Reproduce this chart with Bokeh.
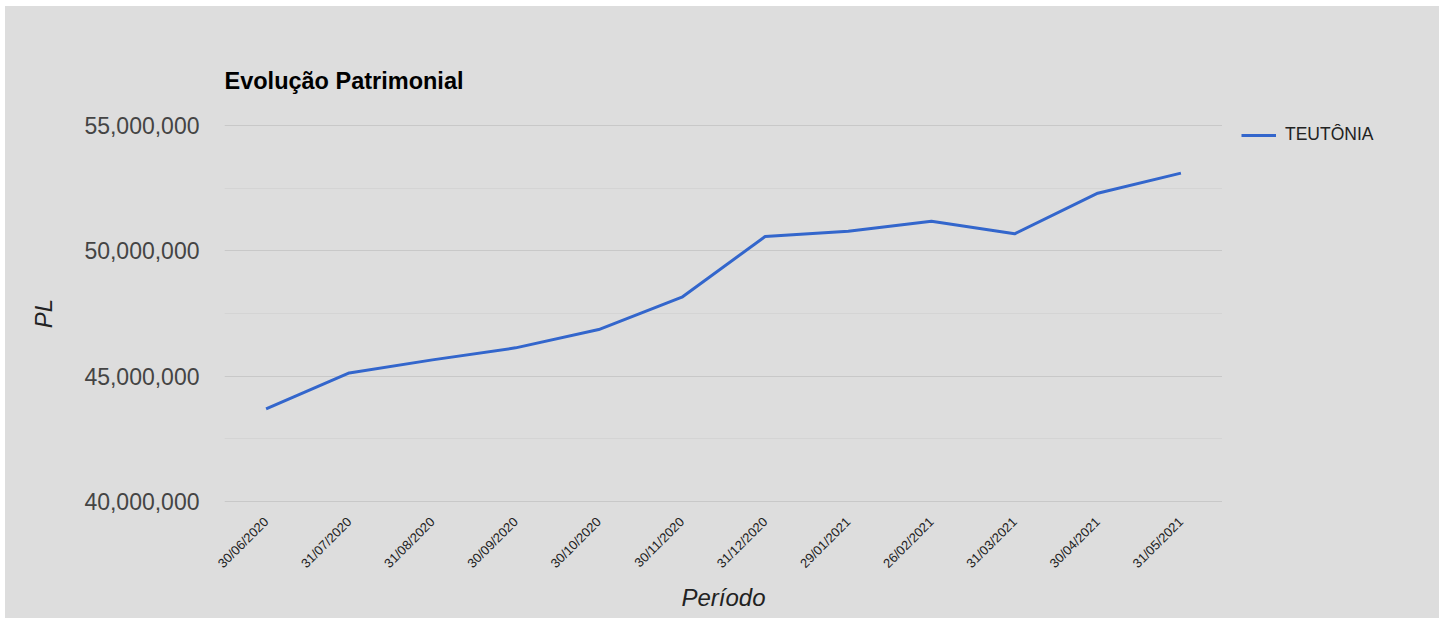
from bokeh.plotting import figure
from bokeh.layouts import row
from bokeh.models import (Range1d, FactorRange, FixedTicker, NumeralTickFormatter,
                          Legend, LegendItem, ColumnDataSource, Title)
from bokeh.embed import file_html
from bokeh.resources import INLINE
import math

# ---- data ----
periodos = ["30/06/2020", "31/07/2020", "31/08/2020", "30/09/2020", "30/10/2020",
            "30/11/2020", "31/12/2020", "29/01/2021", "26/02/2021", "31/03/2021",
            "30/04/2021", "31/05/2021"]
pl_teutonia = [43_700_000, 45_130_000, 45_650_000, 46_130_000, 46_860_000,
               48_150_000, 50_570_000, 50_780_000, 51_180_000, 50_680_000,
               52_300_000, 53_100_000]
serie_nome = "TEUTÔNIA"
y_ticks = [40_000_000, 45_000_000, 50_000_000, 55_000_000]
y_minor = [42_500_000, 47_500_000, 52_500_000]

FONT = "Liberation Sans"
BG = "#dddddd"
LINE = "#3366cc"

H = 612
MAIN_W = 1217
LEG_W = 217

pad = (55_000_000 - 40_000_000) / 376.0   # one pixel of headroom so edge gridlines show
p = figure(width=MAIN_W, height=H, output_backend="svg", toolbar_location=None,
           x_range=FactorRange(factors=periodos, range_padding=0),
           y_range=Range1d(40_000_000 - pad, 55_000_000 + pad),
           min_border_left=219, min_border_right=0,
           min_border_top=118, min_border_bottom=116,
           background_fill_color=BG, border_fill_color=BG, outline_line_color=None)
p.styles = {"background-color": BG}

src = ColumnDataSource(dict(x=periodos, y=pl_teutonia))
r = p.line("x", "y", source=src, line_color=LINE, line_width=3)

# title
p.title.text = "Evolução Patrimonial"
p.title.text_font = FONT
p.title.text_font_size = "23.5px"
p.title.text_font_style = "bold"
p.title.text_color = "#000000"
p.title.align = "left"
p.add_layout(Title(text=" ", text_font_size="12px", standoff=10), "above")

# y axis
p.yaxis.ticker = FixedTicker(ticks=y_ticks, minor_ticks=y_minor)
p.yaxis.formatter = NumeralTickFormatter(format="0,0")
p.yaxis.axis_line_color = None
p.yaxis.major_tick_line_color = None
p.yaxis.minor_tick_line_color = None
p.yaxis.major_label_text_font = FONT
p.yaxis.major_label_text_font_size = "23px"
p.yaxis.major_label_text_color = "#444444"
p.yaxis.major_label_standoff = 19
p.yaxis.axis_label = "PL"
p.yaxis.axis_label_text_font = FONT
p.yaxis.axis_label_text_font_size = "24px"
p.yaxis.axis_label_text_font_style = "italic"
p.yaxis.axis_label_text_color = "#222222"
p.yaxis.axis_label_standoff = 24

# x axis
p.xaxis.axis_line_color = None
p.xaxis.major_tick_line_color = None
p.xaxis.minor_tick_line_color = None
p.xaxis.major_label_orientation = math.pi / 4
p.xaxis.major_label_text_font = FONT
p.xaxis.major_label_text_font_size = "13px"
p.xaxis.major_label_text_color = "#222222"
p.xaxis.major_label_standoff = 11
p.xaxis.axis_label = "Período"
p.xaxis.axis_label_text_font = FONT
p.xaxis.axis_label_text_font_size = "24px"
p.xaxis.axis_label_text_font_style = "italic"
p.xaxis.axis_label_text_color = "#222222"
p.xaxis.axis_label_standoff = 5

# grid
p.xgrid.grid_line_color = None
p.ygrid.grid_line_color = "#c8c8c8"
p.ygrid.grid_line_width = 1
p.ygrid.minor_grid_line_color = "#d4d4d4"

# legend panel (separate figure to the right of the plot area)
pl = figure(width=LEG_W, height=H, output_backend="svg", toolbar_location=None,
            x_range=FactorRange(factors=periodos), y_range=Range1d(0, 1),
            x_axis_location=None, y_axis_location=None,
            min_border_left=19, min_border_right=0,
            min_border_top=116, min_border_bottom=0,
            background_fill_color=BG, border_fill_color=BG, outline_line_color=None)
pl.styles = {"background-color": BG}
pl.xgrid.grid_line_color = None
pl.ygrid.grid_line_color = None
r2 = pl.line("x", "y", source=src, line_color=LINE, line_width=3)

legend = Legend(items=[LegendItem(label=serie_nome, renderers=[r2])],
                location="top_left", orientation="vertical",
                background_fill_alpha=0, border_line_color=None,
                padding=0, margin=0, glyph_width=35, glyph_height=20,
                label_height=20, label_standoff=9,
                label_text_font=FONT, label_text_font_size="17.5px",
                label_text_color="#222222")
pl.add_layout(legend, "center")

layout = row(p, pl)
layout.margin = (6, 0, 0, 5)
layout.spacing = 0

open("out.html", "w").write(file_html(layout, INLINE))
